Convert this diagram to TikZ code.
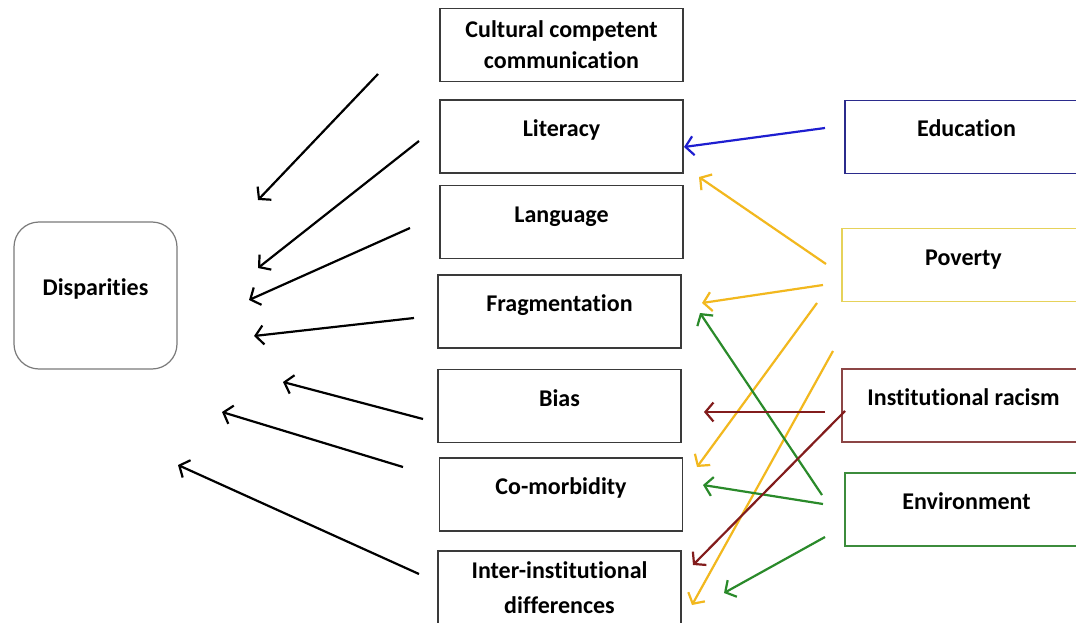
\documentclass[tikz,border=0pt]{standalone}
\usepackage{fontspec}
\setmainfont{Carlito}[Ligatures={NoCommon}]
\usetikzlibrary{arrows.meta}

\definecolor{boxline}{HTML}{3A3A3A}
\definecolor{displine}{HTML}{7A7A7A}
\definecolor{eduline}{HTML}{2B2B8C}
\definecolor{eduarrow}{HTML}{1E1ED0}
\definecolor{povline}{HTML}{E6D25A}
\definecolor{povarrow}{HTML}{F2B81E}
\definecolor{racline}{HTML}{8C4545}
\definecolor{racarrow}{HTML}{821C1C}
\definecolor{envline}{HTML}{3C8C3C}
\definecolor{envarrow}{HTML}{2A8A2A}

\begin{document}
\begin{tikzpicture}[x=1pt, y=-1pt,
  font=\bfseries\fontsize{24}{31}\selectfont,
  box/.style={draw=#1, line width=1.4pt, minimum width=243pt, minimum height=73pt,
              inner sep=0pt, text height=16pt, text depth=16pt},
  box/.default=boxline,
  twoline/.style={draw=boxline, line width=1.4pt, minimum width=243pt, minimum height=73pt,
              inner sep=0pt, align=center},
  link/.style={line width=2.2pt, draw=#1, -{Straight Barb[length=8pt,width=19pt]}},
  link/.default=black]

  \fill[white] (0,0) rectangle (1076,623);
  \useasboundingbox (0,0) rectangle (1076,623);
  \clip (0,0) rectangle (1076,623);

  % outcome
  \node[draw=displine, line width=1.2pt, rounded corners=25pt, minimum width=163pt,
        minimum height=147pt, inner sep=0pt, text height=16pt, text depth=16pt]
        (disp) at (95.5,295.5) {Disparities};

  % mediating factors
  \node[twoline] (ccc)  at (561.5,45)   {Cultural competent\\communication};
  \node[box]     (lit)  at (561.5,136.5) {Literacy};
  \node[box]     (lang) at (561.5,222)   {Language};
  \node[box]     (frag) at (559.5,311.5) {Fragmentation};
  \node[box]     (bias) at (559.5,406)   {Bias};
  \node[box]     (como) at (561,494.5)   {Co-morbidity};
  \node[twoline, font=\bfseries\fontsize{24}{35}\selectfont]
                 (inter) at (559.5,587.5) {Inter-institutional\\differences};

  % root causes
  \node[box=eduline] (edu) at (966.5,137)   {Education};
  \node[box=povline] (pov) at (963.5,265)   {Poverty};
  \node[box=racline] (rac) at (963.5,405.5) {Institutional racism};
  \node[box=envline] (env) at (966.5,509.5) {Environment};

  % arrow end points towards Disparities
  \coordinate (t1) at (378,74);  \coordinate (h1) at (258,200);
  \coordinate (t2) at (419,141); \coordinate (h2) at (258,268);
  \coordinate (t3) at (410,228); \coordinate (h3) at (249,300);
  \coordinate (t4) at (414,318); \coordinate (h4) at (254,336);
  \coordinate (t5) at (423,419); \coordinate (h5) at (283,382);
  \coordinate (t6) at (403,467); \coordinate (h6) at (222,412);
  \coordinate (t7) at (419,574); \coordinate (h7) at (178,465);

  \foreach \i in {1,...,7} \draw[link] (t\i) -- (h\i);

  % arrows from root causes to factors
  \coordinate (eA) at (825,128); \coordinate (eB) at (684,147);
  \draw[link=eduarrow] (eA) -- (eB);

  \coordinate (pA) at (826,264); \coordinate (pB) at (699,177);
  \coordinate (pC) at (823,285); \coordinate (pD) at (702,303);
  \coordinate (pE) at (817,303); \coordinate (pF) at (697,467);
  \coordinate (pG) at (833,351); \coordinate (pH) at (692,605);
  \draw[link=povarrow] (pA) -- (pB);
  \draw[link=povarrow] (pC) -- (pD);
  \draw[link=povarrow] (pE) -- (pF);
  \draw[link=povarrow] (pG) -- (pH);

  \coordinate (gA) at (822,495); \coordinate (gB) at (700,313);
  \coordinate (gC) at (823,504); \coordinate (gD) at (703,485);
  \coordinate (gE) at (825,537); \coordinate (gF) at (724,593);
  \draw[link=envarrow] (gA) -- (gB);
  \draw[link=envarrow] (gC) -- (gD);
  \draw[link=envarrow] (gE) -- (gF);

  \coordinate (rA) at (825,412); \coordinate (rB) at (704,412);
  \coordinate (rC) at (845,411); \coordinate (rD) at (693,565);
  \draw[link=racarrow] (rA) -- (rB);
  \draw[link=racarrow] (rC) -- (rD);
\end{tikzpicture}
\end{document}
